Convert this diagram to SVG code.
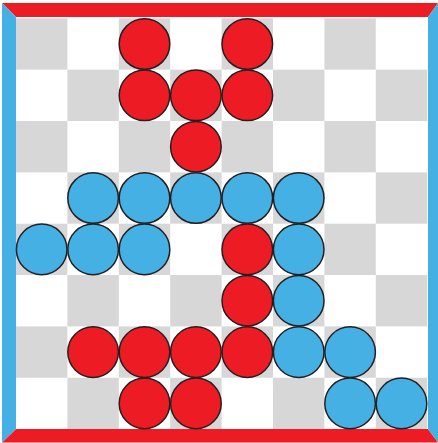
<svg xmlns="http://www.w3.org/2000/svg" width="438" height="443" viewBox="0 0 438 443">
<style>
.g{fill:#D7D7D7}
.red{fill:#ED1C24}
.blue{fill:#45B0E3}
.p{stroke:#231F20;stroke-width:1.5}
</style>
<defs>
<circle id="c" r="25.3"/>
</defs>
<rect width="438" height="443" fill="#fff"/>
<g id="board">
<g id="cells">
<rect class="g" x="16" y="18.3" width="51.4" height="51.35"/>
<rect class="g" x="118.8" y="18.3" width="51.4" height="51.35"/>
<rect class="g" x="221.6" y="18.3" width="51.4" height="51.35"/>
<rect class="g" x="324.4" y="18.3" width="51.4" height="51.35"/>
<rect class="g" x="67.4" y="69.65" width="51.4" height="51.35"/>
<rect class="g" x="170.2" y="69.65" width="51.4" height="51.35"/>
<rect class="g" x="273" y="69.65" width="51.4" height="51.35"/>
<rect class="g" x="375.8" y="69.65" width="51.4" height="51.35"/>
<rect class="g" x="16" y="121" width="51.4" height="51.35"/>
<rect class="g" x="118.8" y="121" width="51.4" height="51.35"/>
<rect class="g" x="221.6" y="121" width="51.4" height="51.35"/>
<rect class="g" x="324.4" y="121" width="51.4" height="51.35"/>
<rect class="g" x="67.4" y="172.35" width="51.4" height="51.35"/>
<rect class="g" x="170.2" y="172.35" width="51.4" height="51.35"/>
<rect class="g" x="273" y="172.35" width="51.4" height="51.35"/>
<rect class="g" x="375.8" y="172.35" width="51.4" height="51.35"/>
<rect class="g" x="16" y="223.7" width="51.4" height="51.35"/>
<rect class="g" x="118.8" y="223.7" width="51.4" height="51.35"/>
<rect class="g" x="221.6" y="223.7" width="51.4" height="51.35"/>
<rect class="g" x="324.4" y="223.7" width="51.4" height="51.35"/>
<rect class="g" x="67.4" y="275.05" width="51.4" height="51.35"/>
<rect class="g" x="170.2" y="275.05" width="51.4" height="51.35"/>
<rect class="g" x="273" y="275.05" width="51.4" height="51.35"/>
<rect class="g" x="375.8" y="275.05" width="51.4" height="51.35"/>
<rect class="g" x="16" y="326.4" width="51.4" height="51.35"/>
<rect class="g" x="118.8" y="326.4" width="51.4" height="51.35"/>
<rect class="g" x="221.6" y="326.4" width="51.4" height="51.35"/>
<rect class="g" x="324.4" y="326.4" width="51.4" height="51.35"/>
<rect class="g" x="67.4" y="377.75" width="51.4" height="51.35"/>
<rect class="g" x="170.2" y="377.75" width="51.4" height="51.35"/>
<rect class="g" x="273" y="377.75" width="51.4" height="51.35"/>
<rect class="g" x="375.8" y="377.75" width="51.4" height="51.35"/>
</g>
<g id="border">
<polygon class="red" points="2,3 438,3 428,17 16,17"/>
<polygon class="red" points="2,442.5 16,429 428,429 438,442.5"/>
<polygon class="blue" points="2,3 16,17 16,429 2,442.5"/>
<polygon class="blue" points="438,3 438,442.5 428,429 428,17"/>
</g>
</g>
<g id="red-pieces" class="red p">
<use href="#c" x="144.5" y="44"/>
<use href="#c" x="247.3" y="44"/>
<use href="#c" x="144.5" y="95.3"/>
<use href="#c" x="195.9" y="95.3"/>
<use href="#c" x="247.3" y="95.3"/>
<use href="#c" x="195.9" y="146.7"/>
<use href="#c" x="247.3" y="249.4"/>
<use href="#c" x="247.3" y="300.7"/>
<use href="#c" x="93.1" y="352.1"/>
<use href="#c" x="144.5" y="352.1"/>
<use href="#c" x="195.9" y="352.1"/>
<use href="#c" x="247.3" y="352.1"/>
<use href="#c" x="144.5" y="403.4"/>
<use href="#c" x="195.9" y="403.4"/>
</g>
<g id="blue-pieces" class="blue p">
<use href="#c" x="93.1" y="198"/>
<use href="#c" x="144.5" y="198"/>
<use href="#c" x="195.9" y="198"/>
<use href="#c" x="247.3" y="198"/>
<use href="#c" x="298.7" y="198"/>
<use href="#c" x="41.7" y="249.4"/>
<use href="#c" x="93.1" y="249.4"/>
<use href="#c" x="144.5" y="249.4"/>
<use href="#c" x="298.7" y="249.4"/>
<use href="#c" x="298.7" y="300.7"/>
<use href="#c" x="298.7" y="352.1"/>
<use href="#c" x="350.1" y="352.1"/>
<use href="#c" x="350.1" y="403.4"/>
<use href="#c" x="401.5" y="403.4"/>
</g>
</svg>
